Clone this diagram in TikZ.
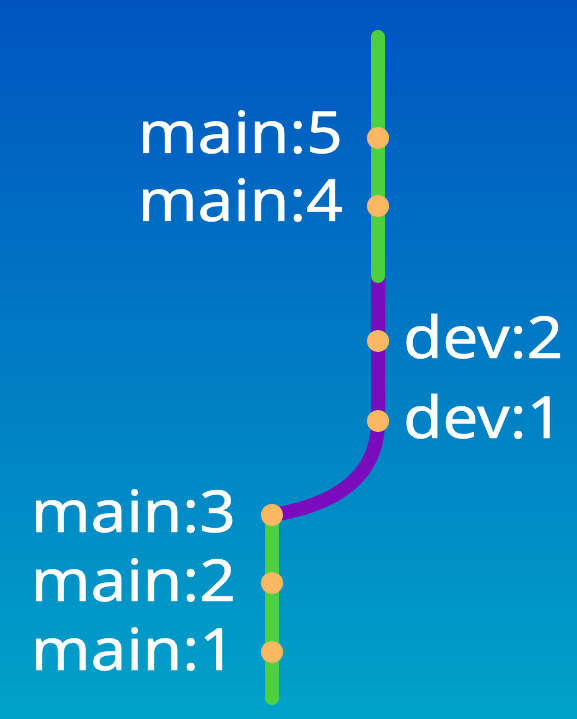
\documentclass[tikz,border=0pt]{standalone}
\usepackage{fontspec}
\setmainfont{Noto Sans}[FakeStretch=1.1, FakeBold=0.8]
\usetikzlibrary{calc}

\definecolor{bgtop}{RGB}{0,84,192}
\definecolor{bgbot}{RGB}{0,162,200}
\definecolor{mainbr}{RGB}{76,208,64}
\definecolor{devbr}{RGB}{122,12,190}
\definecolor{commitc}{RGB}{250,184,98}

\tikzset{
    branch/.style={line width=14pt, line cap=round},
    commit/.style={circle, fill=commitc, inner sep=0pt, minimum size=22pt},
    tag/.style={text=white, inner sep=0pt, font=\fontsize{58}{60}\selectfont},
}

\begin{document}
\begin{tikzpicture}[x=1pt, y=-1pt]
        \shade[top color=bgtop, bottom color=bgbot] (0,0) rectangle (577,719);
        \useasboundingbox (0,0) rectangle (577,719);

        % commits
        \coordinate (top) at (378,37);
        \coordinate (split) at (378,276);
        \node[commit] (m5) at (378,138) {};
        \node[commit] (m4) at (378,206) {};
        \node[commit] (d2) at (378,341) {};
        \node[commit] (d1) at (378,421) {};
        \node[commit] (m3) at (272,515) {};
        \node[commit] (m2) at (272,583) {};
        \node[commit] (m1) at (272,652) {};
        \coordinate (bot) at (272,698);

        % branches
        \draw[branch, mainbr] (m3.center) -- (bot);
        \draw[devbr, line width=14pt] (split) -- (d1.center)
            .. controls (378,485) and (322,507) .. (m3.center);
        \draw[branch, mainbr] (top) -- (split);

        \foreach \c in {m1,m2,m3,m4,m5,d1,d2}
            \node[commit] at (\c) {};

        % labels
        \node[tag, anchor=base east] at ($(m5)+(-35,15)$) {main:5};
        \node[tag, anchor=base east] at ($(m4)+(-35,15)$) {main:4};
        \node[tag, anchor=base west] at ($(d2)+(25,17)$) {dev:2};
        \node[tag, anchor=base west] at ($(d1)+(25,17)$) {dev:1};
        \node[tag, anchor=base east] at ($(m3)+(-36,17)$) {main:3};
        \node[tag, anchor=base east] at ($(m2)+(-36,18)$) {main:2};
        \node[tag, anchor=base east] at ($(m1)+(-36,18)$) {main:1};
    \end{tikzpicture}
\end{document}
